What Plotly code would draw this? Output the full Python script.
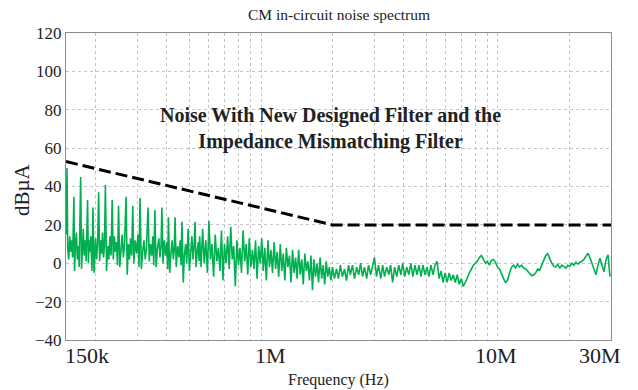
import numpy as np
import plotly.graph_objects as go

# ---------------- data ----------------
# Low band 150 kHz - 550 kHz (kHz, dBuA)
freq_low_khz = [150, 150.8, 151.5, 152.5, 154, 155.5, 157, 158.5, 160,
                162, 163, 164.5, 166, 167.5, 169, 170.5,
                173, 174.5, 176, 177.5, 179, 181, 182.5,
                185, 186.5, 188, 189.5, 191, 193,
                195, 197, 198.5, 200, 202, 204,
                206, 208, 210, 212, 214, 216, 218,
                220, 222.5, 225, 227.5, 230, 232.5,
                235, 237.5, 240, 242.5, 245, 247.5,
                250, 253, 256, 259, 262, 265,
                269, 272, 275, 278, 281, 284,
                287, 290, 294, 298, 302, 305,
                308, 312, 316, 320, 324, 328,
                333, 337, 341, 345, 349, 352,
                356, 360, 365, 370, 374, 378,
                381, 385, 390, 395, 400, 403,
                406, 411, 416, 421, 426, 430,
                433, 438, 444, 450, 455, 459,
                463, 469, 474, 480, 485, 489,
                492, 498, 504, 510, 516, 521,
                526, 531, 537, 543, 547]
noise_low = [15, 30, 49.7, 8, 2, 14, 6, 12, 3,
             34.6, -4, 10, 16, 2, 9, -2,
             45, -3, 8, 18, 4, 12, 1,
             33, 0, 12, 6, 14, -4,
             29, -5, 6, 13, 2, 10,
             37, 1, 12, 5, 16, 3, 9,
             40.8, -4, 9, 2, 14, 4,
             33, 2, 14, 6, 11, -1,
             30, -2, 8, 15, 3, 10,
             34.6, -6, 10, 2, 13, 4,
             30, 0, 12, 5, 15, -2,
             34, -3, 6, 12, 2, 8,
             29, 1, 10, 4, 14, -1,
             27.8, -2, 8, 13, 3, 9,
             29, 0, 12, 4, 11, -3,
             24, -5, 5, 12, 2, 8,
             24, -2, 9, 3, 12, -1,
             21.6, -10, 4, 10, 0, 7,
             18, -4, 8, 14, 2, 9,
             21.6, -2, 6, 11, 1]

# Mid band 550 kHz - 2 MHz (kHz, dBuA)
freq_mid_khz = [550, 558, 566, 575, 584, 593, 602, 611, 620, 630,
                640, 650, 660, 670, 680, 690, 700, 711, 722, 733,
                744, 755, 766, 778, 790, 802, 814, 826, 839, 852,
                865, 878, 891, 905, 919, 933, 947, 961, 976, 991,
                1006, 1021, 1036, 1052, 1068, 1084, 1100, 1117, 1134, 1151,
                1168, 1186, 1204, 1222, 1240, 1259, 1278, 1297, 1317, 1337,
                1357, 1377, 1398, 1419, 1440, 1462, 1484, 1506, 1529, 1552,
                1575, 1599, 1623, 1647, 1672, 1697, 1722, 1748, 1774, 1801,
                1828, 1855, 1883, 1911, 1940, 1970]
noise_mid = [14, -2, 18, 0, 12, -5, 22, 2, 10, -7,
             15, 1, 8, -4, 17, -9, 10, 0, 14, -3,
             19, 2, 9, -12, 12, -1, 8, -5, 17, 1,
             10, -6, 13, -2, 7, -3, 12, -8, 9, 0,
             13, -4, 8, -9, 12, -2, 7, -5, 11, -3,
             6, -7, 10, -4, 5, -9, 8, -2, 4, -10,
             7, -5, 3, -8, 7, -6, 2, -11, 5, -4,
             1, -9, 4, -14, 2, -7, 0, -10, 3, -8,
             -1, -11, 1, -7, -2, -9]

# High band 2 MHz - 30 MHz (MHz, dBuA)
freq_high_mhz = [2.00, 2.04, 2.08, 2.12, 2.16, 2.20, 2.25, 2.29, 2.34, 2.38,
                 2.43, 2.48, 2.53, 2.58, 2.63, 2.68, 2.73, 2.79, 2.84, 2.90,
                 2.96, 3.01, 3.07, 3.13, 3.20, 3.26, 3.32, 3.39, 3.46, 3.52,
                 3.59, 3.66, 3.74, 3.81, 3.89, 3.96, 4.04, 4.12, 4.20, 4.29,
                 4.37, 4.46, 4.55, 4.64, 4.73, 4.82, 4.92, 5.01, 5.11, 5.21,
                 5.32, 5.42, 5.53, 5.64, 5.75, 5.86, 5.98, 6.10, 6.22, 6.34,
                 6.47, 6.60, 6.73, 6.86, 7.00, 7.13, 7.28, 7.42, 7.57, 7.72,
                 7.87, 8.02, 8.18, 8.34, 8.51, 8.68, 8.85, 9.02, 9.20, 9.38,
                 9.57, 9.76, 9.95, 10.15, 10.35, 10.55, 10.76, 10.97, 11.19, 11.41,
                 11.64, 11.87, 12.10, 12.34, 12.58, 12.83, 13.08, 13.34, 13.61, 13.88,
                 14.15, 14.43, 14.71, 15.00, 15.30, 15.60, 15.91, 16.22, 16.54, 16.87,
                 17.20, 17.54, 17.89, 18.24, 18.60, 18.97, 19.34, 19.72, 20.11, 20.51,
                 20.91, 21.32, 21.74, 22.17, 22.61, 23.05, 23.51, 23.97, 24.44, 24.92,
                 25.42, 25.92, 26.43, 26.95, 27.48, 28.02, 28.58, 29.14, 29.70]
noise_high = [-2, -8, -3, -8, -1, -7, -3, -9, -1, -6,
              -1, -8, -2, -6, 0, -7, -2, -8, -1, -6,
              0, 3, -7, -1, -8, -1, -7, -2, -6, -1,
              -10, -2, -7, -1, -6, 0, -7, -2, -6, 0,
              -7, -1, -6, -1, -7, -1, -6, -2, -7, -1,
              -6, -1, 1, -8, -4, -10, -5, -10, -5, -9,
              -6, -10, -6, -11, -8, -12, -10, -7, -5, -3,
              -1, 0, 1, 3, 4, 2, 0, 1, -1, 1.5,
              2, 0.5, -2, -3, -6, -8, -10, -9, -5, -2,
              -1, -2.5, -0.5, -2, -1, -2.5, -3, -4, -5, -6.5,
              -6, -5, -3, -3.5, -1, 1.5, 4, 5, 2, 0,
              -1.5, -2, -0.5, -2.5, -1, -2, -2.5, -1, -1.5, 0,
              -1, 0.5, -0.5, 0.5, 1, 2, 4, 5.2, 3, 0,
              -4, -6, -1, 2.6, -1, -4.5, 2, 4.4, -7]

# Limit line (Hz, dBuA)
limit_freq_hz = [150e3, 2e6, 30e6]
limit_dbua = [53, 20, 20]

# Axis ticks
x_grid_hz = [150e3, 200e3, 300e3, 400e3, 500e3, 600e3, 700e3, 800e3, 900e3,
             1e6, 2e6, 3e6, 4e6, 5e6, 6e6, 7e6, 8e6, 9e6, 10e6, 20e6, 30e6]
x_label_hz = [150e3, 1e6, 10e6, 30e6]
x_label_text = ["150k", "1M", "10M", "30M"]
y_ticks = [-40, -20, 0, 20, 40, 60, 80, 100, 120]

# ---------------- build ----------------
freq_hz = ([f * 1e3 for f in freq_low_khz] + [f * 1e3 for f in freq_mid_khz]
           + [f * 1e6 for f in freq_high_mhz])
noise = noise_low + noise_mid + noise_high

FONT = "Liberation Serif, Times New Roman, serif"
TXT = "#222222"

fig = go.Figure()
fig.add_trace(go.Scatter(x=freq_hz, y=noise, mode="lines",
                         line=dict(color="#00B050", width=1.6),
                         showlegend=False, hoverinfo="skip"))
fig.add_trace(go.Scatter(x=limit_freq_hz, y=limit_dbua, mode="lines",
                         line=dict(color="black", width=3, dash="12px,5px"),
                         showlegend=False, hoverinfo="skip"))

fig.update_xaxes(type="log", range=[np.log10(150e3), np.log10(30e6)],
                 tickvals=x_grid_hz, showticklabels=False,
                 showgrid=True, gridcolor="#c4c4c4", griddash="dot", gridwidth=1,
                 showline=True, mirror=True, linecolor="#8c8c8c", linewidth=1,
                 zeroline=False, ticks="")
fig.update_yaxes(range=[-40, 120], tickvals=y_ticks,
                 showgrid=True, gridcolor="#c4c4c4", griddash="dot", gridwidth=1,
                 showline=True, mirror=True, linecolor="#8c8c8c", linewidth=1,
                 zeroline=False, ticks="",
                 tickfont=dict(family=FONT, size=17, color=TXT))

ann = []
shifts = [(-3, "left"), (9, "center"), (-2, "center"), (-11, "center")]
for f, t, (dx, anc) in zip(x_label_hz, x_label_text, shifts):
    ann.append(dict(x=np.log10(f), y=0, xref="x", yref="paper", text=t,
                    showarrow=False, xanchor=anc, yanchor="middle",
                    xshift=dx, yshift=-15,
                    font=dict(family=FONT, size=22, color=TXT)))
ann.append(dict(x=0.5, y=1, xref="paper", yref="paper",
                text="CM in-circuit noise spectrum", showarrow=False,
                xanchor="center", yanchor="middle", yshift=19,
                font=dict(family=FONT, size=15.5, color=TXT)))
ann.append(dict(x=0.5, y=0, xref="paper", yref="paper",
                text="Frequency (Hz)", showarrow=False,
                xanchor="center", yanchor="middle", yshift=-40,
                font=dict(family=FONT, size=16, color=TXT)))
ann.append(dict(x=0, y=0.4886, xref="paper", yref="paper",
                text="dBµA", showarrow=False, textangle=-90,
                xanchor="center", yanchor="middle", xshift=-44,
                font=dict(family=FONT, size=21, color=TXT)))
ann.append(dict(x=0.486, y=0.69, xref="paper", yref="paper",
                text="<b>Noise With New Designed Filter and the<br>Impedance Mismatching Filter</b>",
                showarrow=False, xanchor="center", yanchor="middle",
                font=dict(family=FONT, size=20, color=TXT)))

fig.update_layout(width=638, height=390,
                  margin=dict(l=66, r=27, t=33, b=50),
                  paper_bgcolor="white", plot_bgcolor="white",
                  annotations=ann, showlegend=False)

fig.write_html("out.html")
